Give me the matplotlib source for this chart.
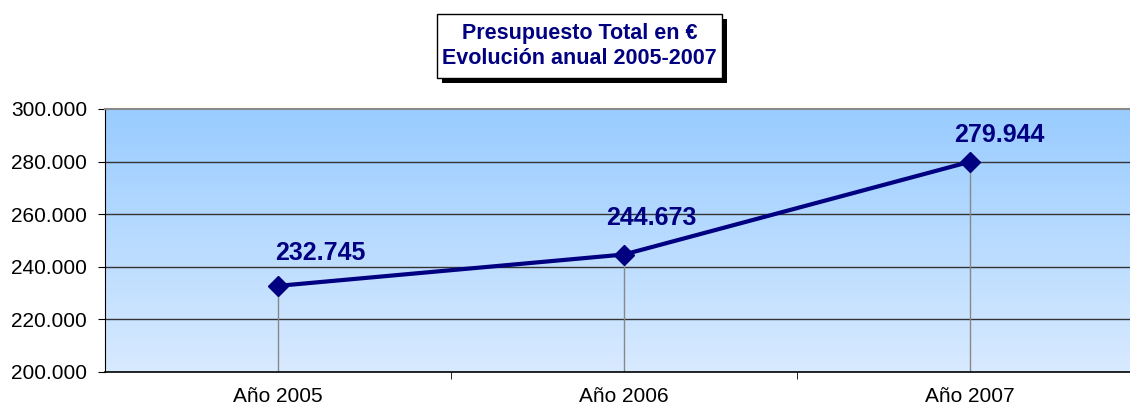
import matplotlib.pyplot as plt
import numpy as np
from matplotlib.patches import Rectangle

# Data
categories = ['Año 2005', 'Año 2006', 'Año 2007']
presupuesto = [232745, 244673, 279944]
labels = ['232.745', '244.673', '279.944']
y_ticks = [200000, 220000, 240000, 260000, 280000, 300000]

# label offsets in points (as placed in the original)
label_dx = [-2, -13, -11.5]
label_dy = [24, 26, 19]

plt.rcParams['font.family'] = ['Liberation Sans', 'DejaVu Sans']

fig = plt.figure(figsize=(11.3, 4.12), dpi=100)
ax = fig.add_axes([105 / 1130, 1 - 372 / 412, 1038 / 1130, 263 / 412])

x = np.arange(len(categories))
ax.set_xlim(-0.5, 2.5)
ax.set_ylim(200000, 300000)

# gradient background
grad = np.linspace(0, 1, 256).reshape(-1, 1)
top = np.array([0x99, 0xCC, 0xFF]) / 255
bot = np.array([0xD8, 0xEA, 0xFF]) / 255
img = bot + (top - bot) * grad
ax.imshow(img[:, None, :].repeat(2, axis=1), aspect='auto', origin='lower',
          extent=[-0.5, 2.5, 200000, 300000], zorder=0)

# grid lines
for yv in y_ticks[1:-1]:
    ax.axhline(yv, color='#333333', lw=1, zorder=1)

# drop lines
ax.vlines(x, 200000, presupuesto, color='#888888', lw=1, zorder=2)

ax.plot(x, presupuesto, color='#000080', lw=3, marker='D', markersize=10,
        zorder=3)

for xi, yi, lab, dx, dy in zip(x, presupuesto, labels, label_dx, label_dy):
    ax.annotate(lab, (xi, yi), xytext=(dx, dy), textcoords='offset points',
                ha='left', va='center', fontsize=18, fontweight='bold',
                color='#000080', zorder=4)

ax.set_yticks(y_ticks)
ax.set_yticklabels([f'{v // 1000}.000' for v in y_ticks], fontsize=15)
ax.set_xticks(x)
ax.set_xticklabels(categories, fontsize=15)
ax.set_xticks([0.5, 1.5], minor=True)
ax.tick_params(axis='x', which='major', length=0, pad=11)
ax.tick_params(axis='x', which='minor', length=5, color='black')
ax.tick_params(axis='y', length=5, pad=8)

ax.spines['right'].set_visible(False)
ax.spines['top'].set_color('#888888')
ax.spines['top'].set_linewidth(1.5)
ax.spines['left'].set_color('black')
ax.spines['bottom'].set_color('black')
ax.spines['bottom'].set_linewidth(1.2)

# title box with shadow
bx, by, bw, bh = 437 / 1130, 1 - 78 / 412, 285 / 1130, 64 / 412
sx, sy = 5 / 1130, 5 / 412
fig.patches.append(Rectangle((bx + sx, by - sy), bw, bh, transform=fig.transFigure,
                             facecolor='black', edgecolor='none', zorder=1))
fig.patches.append(Rectangle((bx, by), bw, bh, transform=fig.transFigure,
                             facecolor='white', edgecolor='black', lw=1, zorder=2))
fig.text(bx + bw / 2, by + bh / 2, 'Presupuesto Total en €\nEvolución anual 2005-2007',
         ha='center', va='center', fontsize=15.5, fontweight='bold',
         color='#000080', linespacing=1.2, zorder=3)

fig.savefig('out.png', dpi=100)
